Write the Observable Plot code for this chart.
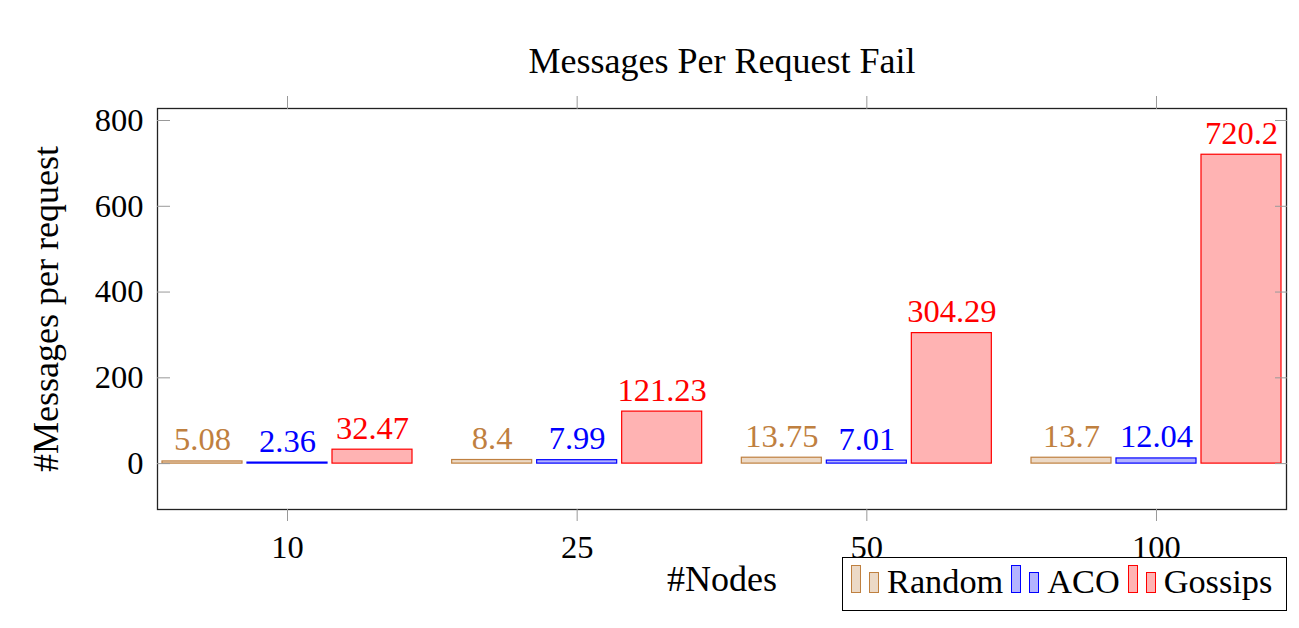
<!DOCTYPE html>
<html><head><meta charset="utf-8">
<script src="https://cdn.jsdelivr.net/npm/d3@7"></script>
<script src="https://cdn.jsdelivr.net/npm/@observablehq/plot@0.6"></script>
<style>
body{margin:0;background:#fff;}
#wrap{position:relative;width:1299px;height:628px;font-family:"Liberation Serif",serif;}
#legend{position:absolute;left:842px;top:557px;width:445px;height:54px;box-sizing:border-box;border:1.3px solid #000;display:flex;align-items:baseline;padding-left:8px;font-size:34.3px;line-height:46px;color:#000;}
#legend .sw{display:inline-block;width:8px;border:1px solid;margin-right:8px;}
#legend .lab{margin-right:8px;}
</style></head><body><div id="wrap"></div>
<script>
const nodes = ["10", "25", "50", "100"];
const seriesNames = ["Random", "ACO", "Gossips"];
const randomValues = [5.08, 8.4, 13.75, 13.7];
const acoValues = [2.36, 7.99, 7.01, 12.04];
const gossipsValues = [32.47, 121.23, 304.29, 720.2];
const yTicks = [0, 200, 400, 600, 800];
const titleText = "Messages Per Request Fail";
const xLabelText = "#Nodes";
const yLabelText = "#Messages per request";

const seriesStyle = {
  Random: {stroke: "#bf8040", fill: "#ecd9c6", insetLeft: 2, insetRight: 172, dx: -85},
  ACO: {stroke: "#0000ff", fill: "#b3b3ff", insetLeft: 87, insetRight: 87, dx: 0},
  Gossips: {stroke: "#ff0000", fill: "#ffb3b3", insetLeft: 172, insetRight: 2, dx: 85}
};
const valuesBySeries = {Random: randomValues, ACO: acoValues, Gossips: gossipsValues};

const rows = seriesNames.flatMap(s => nodes.map((n, i) => ({series: s, nodes: n, value: valuesBySeries[s][i]})));

const numFont = 32.5, wordFont = 36;
const marks = [];
for (const s of seriesNames) {
  const st = seriesStyle[s];
  const data = rows.filter(r => r.series === s);
  marks.push(Plot.barY(data, {x: "nodes", y: "value", fill: st.fill, stroke: st.stroke, strokeWidth: 1.2,
    insetLeft: st.insetLeft, insetRight: st.insetRight}));
  marks.push(Plot.text(data, {x: "nodes", y: "value", text: d => String(d.value), fill: st.stroke,
    dx: st.dx, dy: -11, lineAnchor: "bottom", fontSize: numFont}));
}

const plot = Plot.plot({
  width: 1299, height: 628,
  marginTop: 108, marginBottom: 119, marginLeft: 157, marginRight: 13,
  style: {fontFamily: "'Liberation Serif', serif", background: "#fff", color: "#000"},
  x: {type: "band", domain: nodes, paddingInner: 0.1231, paddingOuter: 0.01035, round: false},
  y: {domain: [-107, 828]},
  marks: [
    ...marks,
    Plot.frame({stroke: "#222", strokeWidth: 1.3}),
    Plot.axisY({anchor: "left", ticks: yTicks, tickSize: -13, tickPadding: 27, stroke: "#999", fontSize: numFont, label: null}),
    Plot.axisY({anchor: "right", ticks: yTicks, tickSize: -12, tickFormat: () => "", stroke: "#999", label: null}),
    Plot.axisX({anchor: "bottom", tickSize: 12, tickPadding: 13, stroke: "#999", fontSize: numFont, label: null}),
    Plot.axisX({anchor: "top", tickSize: 13, tickFormat: () => "", stroke: "#999", label: null}),
    Plot.text([titleText], {frameAnchor: "top", dy: -36, lineAnchor: "bottom", textAnchor: "middle", fontSize: wordFont}),
    Plot.text([xLabelText], {frameAnchor: "bottom", dy: 81, lineAnchor: "bottom", textAnchor: "middle", fontSize: wordFont}),
    Plot.text([yLabelText], {frameAnchor: "left", rotate: -90, dx: -111, textAnchor: "middle", lineAnchor: "middle", fontSize: wordFont})
  ]
});
const wrap = document.getElementById("wrap");
wrap.appendChild(plot);

const legend = document.createElement("div");
legend.id = "legend";
for (const s of seriesNames) {
  const st = seriesStyle[s];
  for (const h of [26, 19]) {
    const sw = document.createElement("span");
    sw.className = "sw";
    sw.style.height = h + "px";
    sw.style.borderColor = st.stroke;
    sw.style.background = st.fill;
    legend.appendChild(sw);
  }
  const lab = document.createElement("span");
  lab.className = "lab";
  lab.textContent = s;
  legend.appendChild(lab);
}
wrap.appendChild(legend);
</script></body></html>
